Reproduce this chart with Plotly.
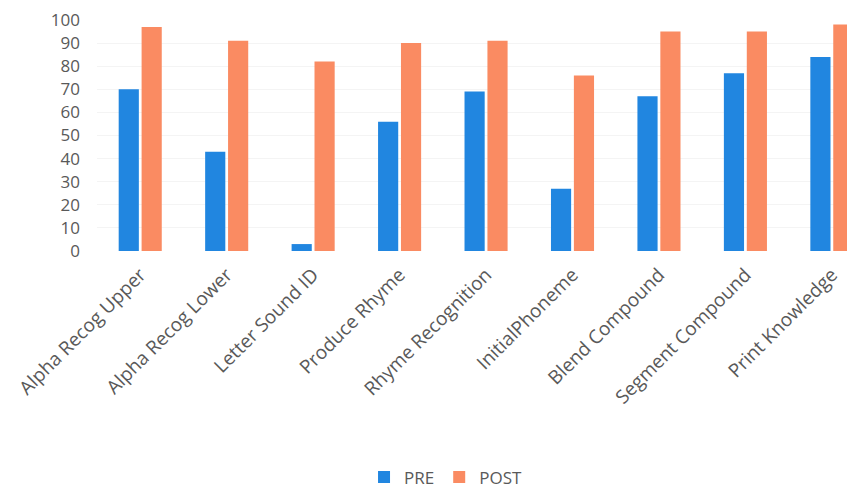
import plotly.graph_objects as go

categories = ["Alpha Recog Upper", "Alpha Recog Lower", "Letter Sound ID", "Produce Rhyme",
              "Rhyme Recognition", "InitialPhoneme", "Blend Compound", "Segment Compound",
              "Print Knowledge"]
pre_values = [70, 43, 3, 56, 69, 27, 67, 77, 84]
post_values = [97, 91, 82, 90, 91, 76, 95, 95, 98]
y_ticks = [0, 10, 20, 30, 40, 50, 60, 70, 80, 90, 100]

FONT = "Open Sans"
GRAY = "#595959"

fig = go.Figure()
fig.add_trace(go.Bar(name="PRE", x=categories, y=pre_values, marker_color="#2186E0",
                     marker_line_width=0))
fig.add_trace(go.Bar(name="POST", x=categories, y=post_values, marker_color="#FA8B62",
                     marker_line_width=0))

fig.update_layout(
    width=855, height=492,
    margin=dict(l=89, r=0, t=12, b=249, autoexpand=False),
    paper_bgcolor="white", plot_bgcolor="white",
    barmode="group", bargap=0.47, bargroupgap=0.12,
    font=dict(family=FONT, color=GRAY, size=17),
    showlegend=True,
    legend=dict(orientation="h", x=0.455, xanchor="center", y=-0.98, yanchor="middle",
                font=dict(size=17, color=GRAY), itemwidth=30, traceorder="normal"),
)
fig.update_xaxes(range=[-0.5, 8.36], showgrid=False, showline=False, zeroline=False,
                 tickangle=-45, tickfont=dict(size=19, color=GRAY), ticks="",
                 ticklabelstandoff=8, automargin=False)
fig.update_yaxes(range=[0, 100], tickvals=y_ticks, showgrid=True, gridcolor="#F4F4F4",
                 zeroline=False, showline=False, tickfont=dict(size=17, color=GRAY),
                 ticklabelstandoff=16, automargin=False, ticklabeloverflow="allow")

fig.write_html("out.html")
